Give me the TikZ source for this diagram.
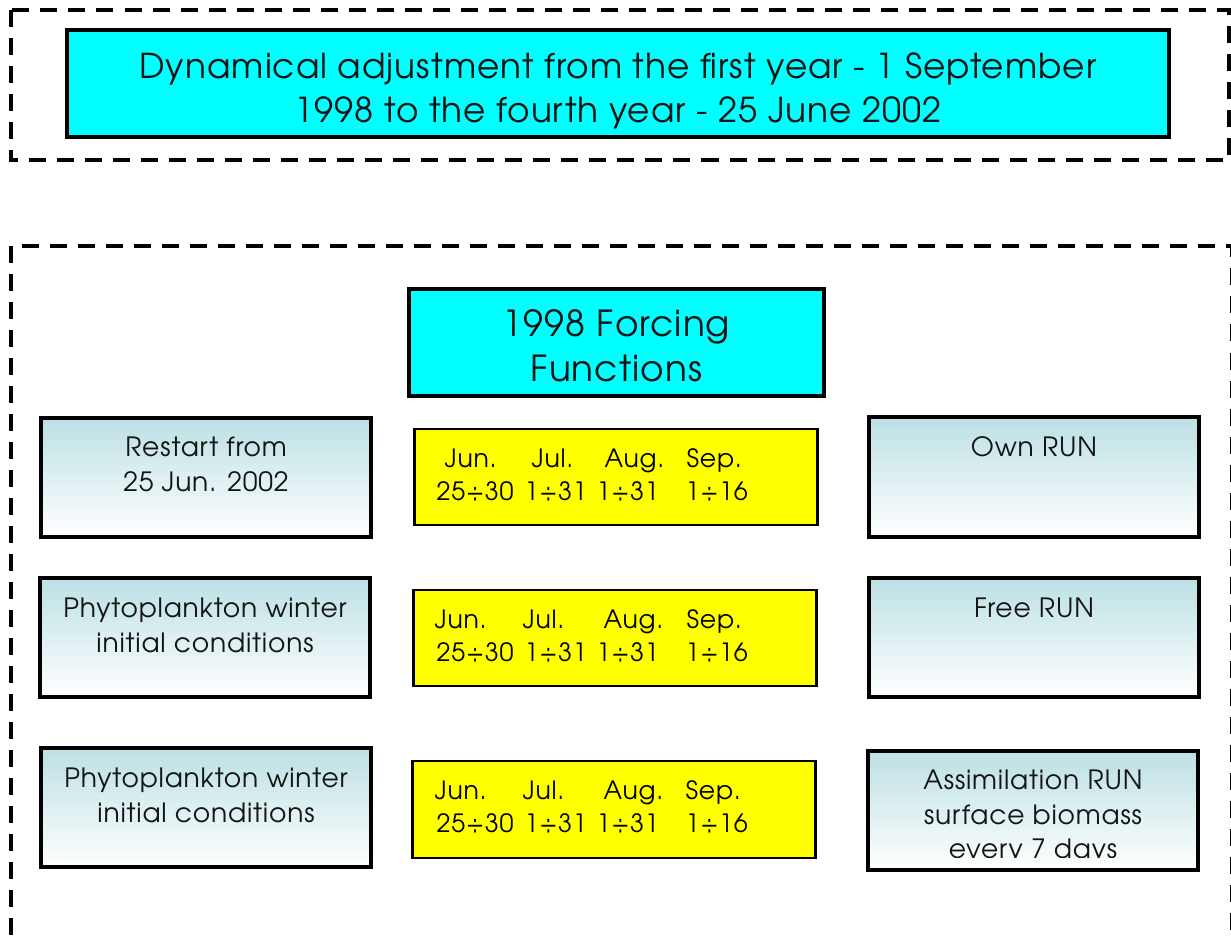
\documentclass[tikz,border=0pt]{standalone}
\usepackage{fontspec}
\setmainfont{TeX Gyre Adventor}
\newfontfamily\widesans[LetterSpace=3]{TeX Gyre Adventor}
\definecolor{aqua}{RGB}{0,255,255}
\definecolor{lemon}{RGB}{255,255,0}
\definecolor{paleteal}{RGB}{188,224,228}
\definecolor{ink}{RGB}{20,20,20}
\begin{document}
\begin{tikzpicture}[x=0.01cm,y=-0.01cm,
  frame/.style={draw=black, line width=1.15pt, dash pattern=on 0.17cm off 0.11cm},
  box/.style={draw=black, line width=1.15pt, inner sep=0pt, outer sep=0pt, rectangle},
  cyanbox/.style={box, fill=aqua},
  yelbox/.style={box, line width=0.8pt, fill=lemon},
  gradbox/.style={box, top color=paleteal, bottom color=white},
  bigtxt/.style={anchor=base, inner sep=0pt, text=ink, font=\widesans\fontsize{9.75}{11}\selectfont},
  forcetxt/.style={anchor=base, inner sep=0pt, text=ink, font=\widesans\fontsize{10.2}{12}\selectfont},
  midtxt/.style={anchor=base, inner sep=0pt, text=ink, font=\widesans\fontsize{7.55}{9}\selectfont},
  daytxt/.style={anchor=base west, inner sep=0pt, text=black, font=\widesans\fontsize{7.15}{9}\selectfont}]
\useasboundingbox (0,0) rectangle (1231,940);

% dashed frames
\draw[frame] (11,10) rectangle (1229,160);
\draw[frame] (11,246) rectangle (1232,1000);

% heading box
\node[cyanbox, minimum width=11.02cm, minimum height=1.07cm] (head) at (618,83.5) {};
\node[bigtxt] (head1) at (618,79) {Dynamical adjustment from the first year - 1 September};
\node[bigtxt] (head2) at (618,123) {1998 to the fourth year - 25 June 2002};

% forcing box
\node[cyanbox, minimum width=4.15cm, minimum height=1.07cm] (force) at (616.5,342.5) {};
\node[forcetxt] (force1) at (616.5,337) {1998 Forcing};
\node[forcetxt] (force2) at (616.5,381) {Functions};

% left column
\node[gradbox, minimum width=3.3cm, minimum height=1.19cm] (L1) at (206,477.5) {};
\node[midtxt] (L1a) at (206,456) {Restart from};
\node[midtxt] (L1b) at (206,491) {25 Jun. 2002};
\node[gradbox, minimum width=3.3cm, minimum height=1.19cm] (L2) at (205,637.5) {};
\node[midtxt] (L2a) at (205,617) {Phytoplankton winter};
\node[midtxt] (L2b) at (205,652) {initial conditions};
\node[gradbox, minimum width=3.3cm, minimum height=1.19cm] (L3) at (206,807.5) {};
\node[midtxt] (L3a) at (206,787) {Phytoplankton winter};
\node[midtxt] (L3b) at (206,822) {initial conditions};

% right column
\node[gradbox, minimum width=3.3cm, minimum height=1.2cm] (R1) at (1034,477) {};
\node[midtxt] (R1a) at (1034,456) {Own RUN};
\node[gradbox, minimum width=3.3cm, minimum height=1.19cm] (R2) at (1034,637.5) {};
\node[midtxt] (R2a) at (1034,617) {Free RUN};
\node[gradbox, minimum width=3.3cm, minimum height=1.19cm] (R3) at (1033,810.5) {};
\begin{scope}
  \clip (870,753) rectangle (1196,857);
  \node[midtxt] (R3a) at (1033,789) {Assimilation RUN};
  \node[midtxt] (R3b) at (1033,824) {surface biomass};
  \node[midtxt] (R3c) at (1033,858) {every 7 days};
\end{scope}

% month boxes: #1 name prefix, #2 baseline, #3..#6 month columns
\newcommand{\monthrow}[6]{%
  \node[daytxt] (#1jun) at (#3,#2) {Jun.};
  \node[daytxt] (#1jul) at (#4,#2) {Jul.};
  \node[daytxt] (#1aug) at (#5,#2) {Aug.};
  \node[daytxt] (#1sep) at (#6,#2) {Sep.};
  \node[daytxt] (#1d1) at (436,#2+33) {25\char"00F7 30};
  \node[daytxt] (#1d2) at (524,#2+33) {1\char"00F7 31};
  \node[daytxt] (#1d3) at (596,#2+33) {1\char"00F7 31};
  \node[daytxt] (#1d4) at (685,#2+33) {1\char"00F7 16};
}
\node[yelbox, minimum width=4.02cm, minimum height=0.96cm] (Y1) at (616,477) {};
\monthrow{a}{467}{444}{531}{604}{686}
\node[yelbox, minimum width=4.02cm, minimum height=0.96cm] (Y2) at (615,638) {};
\monthrow{b}{628}{434}{522}{603}{686}
\node[yelbox, minimum width=4.02cm, minimum height=0.97cm] (Y3) at (614,809.5) {};
\monthrow{c}{799}{434}{522}{603}{685}
\end{tikzpicture}
\end{document}
